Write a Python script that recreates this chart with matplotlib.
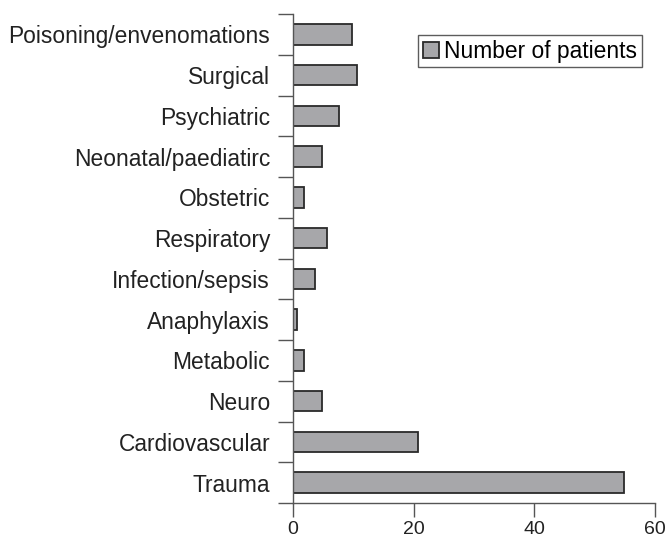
import matplotlib
matplotlib.use("Agg")
import matplotlib.pyplot as plt
from matplotlib.ticker import FixedLocator

categories = ["Trauma", "Cardiovascular", "Neuro", "Metabolic", "Anaphylaxis",
              "Infection/sepsis", "Respiratory", "Obstetric", "Neonatal/paediatirc",
              "Psychiatric", "Surgical", "Poisoning/envenomations"]
values = [54.9, 20.8, 4.8, 1.8, 0.6, 3.6, 5.7, 1.8, 4.8, 7.7, 10.6, 9.7]
xticks = [0, 20, 40, 60]
series_name = "Number of patients"

plt.rcParams['font.family'] = ['Liberation Sans', 'DejaVu Sans']

fig = plt.figure(figsize=(6.69, 5.41), dpi=100)
ax = fig.add_axes([293/669, (541-503)/541, (655-293)/669, (503-14)/541])

y = list(range(len(categories)))
ax.barh(y, values, height=0.5, color='#a7a7aa', edgecolor='#2a2a2a', linewidth=1.3,
        label=series_name)

ax.set_xlim(0, 60)
ax.set_ylim(-0.5, len(categories) - 0.5)
ax.set_xticks(xticks)
ax.set_xticklabels([str(t) for t in xticks], fontsize=14, color='#222222')
ax.set_yticks(y)
ax.set_yticklabels(categories, fontsize=16.4, color='#222222')
ax.tick_params(axis='y', which='major', length=0, pad=16.5)
ax.yaxis.set_minor_locator(FixedLocator([i - 0.5 for i in range(len(categories) + 1)]))
ax.tick_params(axis='y', which='minor', length=11, width=1.0, color='#555555')
ax.tick_params(axis='x', length=10, width=1.0, color='#555555', pad=3)

for s in ['top', 'right']:
    ax.spines[s].set_visible(False)
for s in ['left', 'bottom']:
    ax.spines[s].set_color('#555555')
    ax.spines[s].set_linewidth(1.0)

leg = ax.legend(loc='upper right', bbox_to_anchor=(642/669, (541-35)/541),
                bbox_transform=fig.transFigure, fontsize=16.4, frameon=True,
                fancybox=False, edgecolor='#333333', handlelength=0.7, handleheight=0.7,
                handletextpad=0.25, borderpad=0.2, borderaxespad=0)
leg.get_frame().set_linewidth(1.0)

fig.savefig("out.png", dpi=100)
